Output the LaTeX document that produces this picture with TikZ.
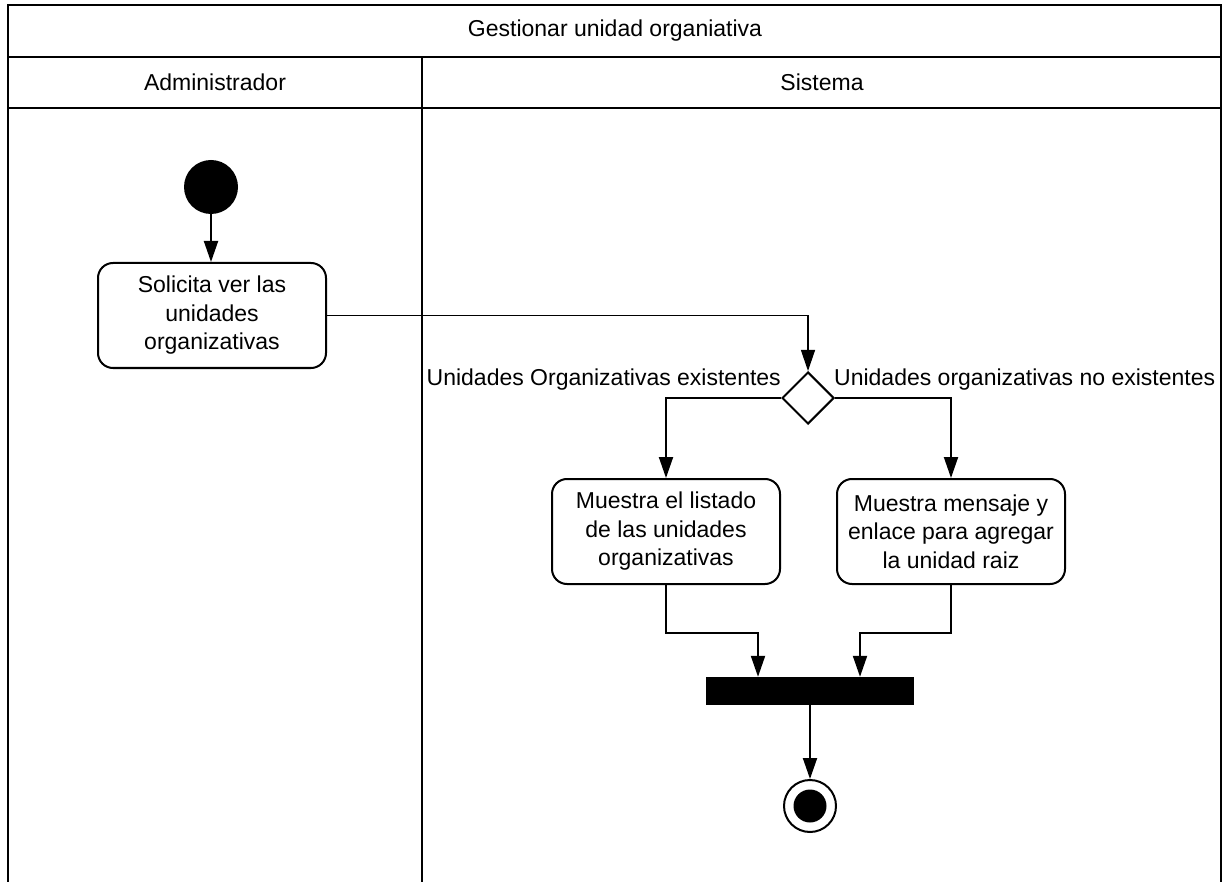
\documentclass[tikz,border=0pt]{standalone}
\usepackage{fontspec}
\setmainfont{Liberation Sans}
\usetikzlibrary{arrows.meta,shapes.geometric}
\begin{document}
\begin{tikzpicture}[x=1pt,y=-1pt,
  every node/.style={font=\fontsize{23}{28.5}\selectfont},
  lane/.style={line width=2pt,line cap=rect},
  act/.style={draw,line width=2pt,rounded corners=15pt,minimum width=228pt,minimum height=105pt,align=center,inner sep=0pt},
  flow/.style={line width=2pt,-{Triangle[length=21pt,width=14pt]}},
  thinflow/.style={line width=1.3pt,-{Triangle[length=21pt,width=14pt]}},
  dec/.style={diamond,draw,line width=2pt,minimum width=52pt,minimum height=52pt,inner sep=0pt,aspect=1},
  initial/.style={circle,fill=black,minimum size=54pt,inner sep=0pt},
  syncbar/.style={rectangle,fill=black,minimum width=208pt,minimum height=28pt,inner sep=0pt},
  finalring/.style={circle,draw,line width=2pt,minimum size=52pt,inner sep=0pt},
  finaldot/.style={circle,fill=black,minimum size=33pt,inner sep=0pt}]
\useasboundingbox (0,0) rectangle (1223,882);
% swimlane frame
\draw[lane] (8,882) -- (8,5) -- (1221,5) -- (1221,882);
\draw[lane] (8,57) -- (1221,57);
\draw[lane] (8,108) -- (1221,108);
\draw[lane] (422,57) -- (422,882);
\node (title) at (615,31) {Gestionar unidad organiativa};
\node (laneA) at (215,82) {Administrador};
\node (laneS) at (822,82) {Sistema};
% nodes
\node[initial] (start) at (211,187) {};
\node[act] (s1) at (212,315.5) {Solicita ver las\\unidades\\organizativas};
\node[dec] (d) at (808,398) {};
\node[act] (b2) at (666,531.5) {Muestra el listado\\de las unidades\\organizativas};
\node[act] (b3) at (951,531.5) {Muestra mensaje y\\enlace para agregar\\la unidad raiz};
\node[syncbar] (bar) at (810,691) {};
\node[finalring] (endr) at (810,806) {};
\node[finaldot] (endd) at (endr) {};
% labels
\node[anchor=east,inner sep=0pt] (l1) at (781,380) {Unidades Organizativas existentes};
\node[anchor=west,inner sep=0pt] (l2) at (834,380) {Unidades organizativas no existentes};
% connectors
\draw[flow] (start.south) -- (s1.north -| start.south);
\draw[thinflow] (s1.east) -| (d.north);
\draw[flow] (d.west) -| (b2.north);
\draw[flow] (d.east) -| (b3.north);
\draw[flow] (b2.south) -- ++(0,48) -| ([xshift=-52pt]bar.north);
\draw[flow] (b3.south) -- ++(0,48) -| ([xshift=50pt]bar.north);
\draw[flow] (bar.south) -- (endr.north);
\end{tikzpicture}
\end{document}
